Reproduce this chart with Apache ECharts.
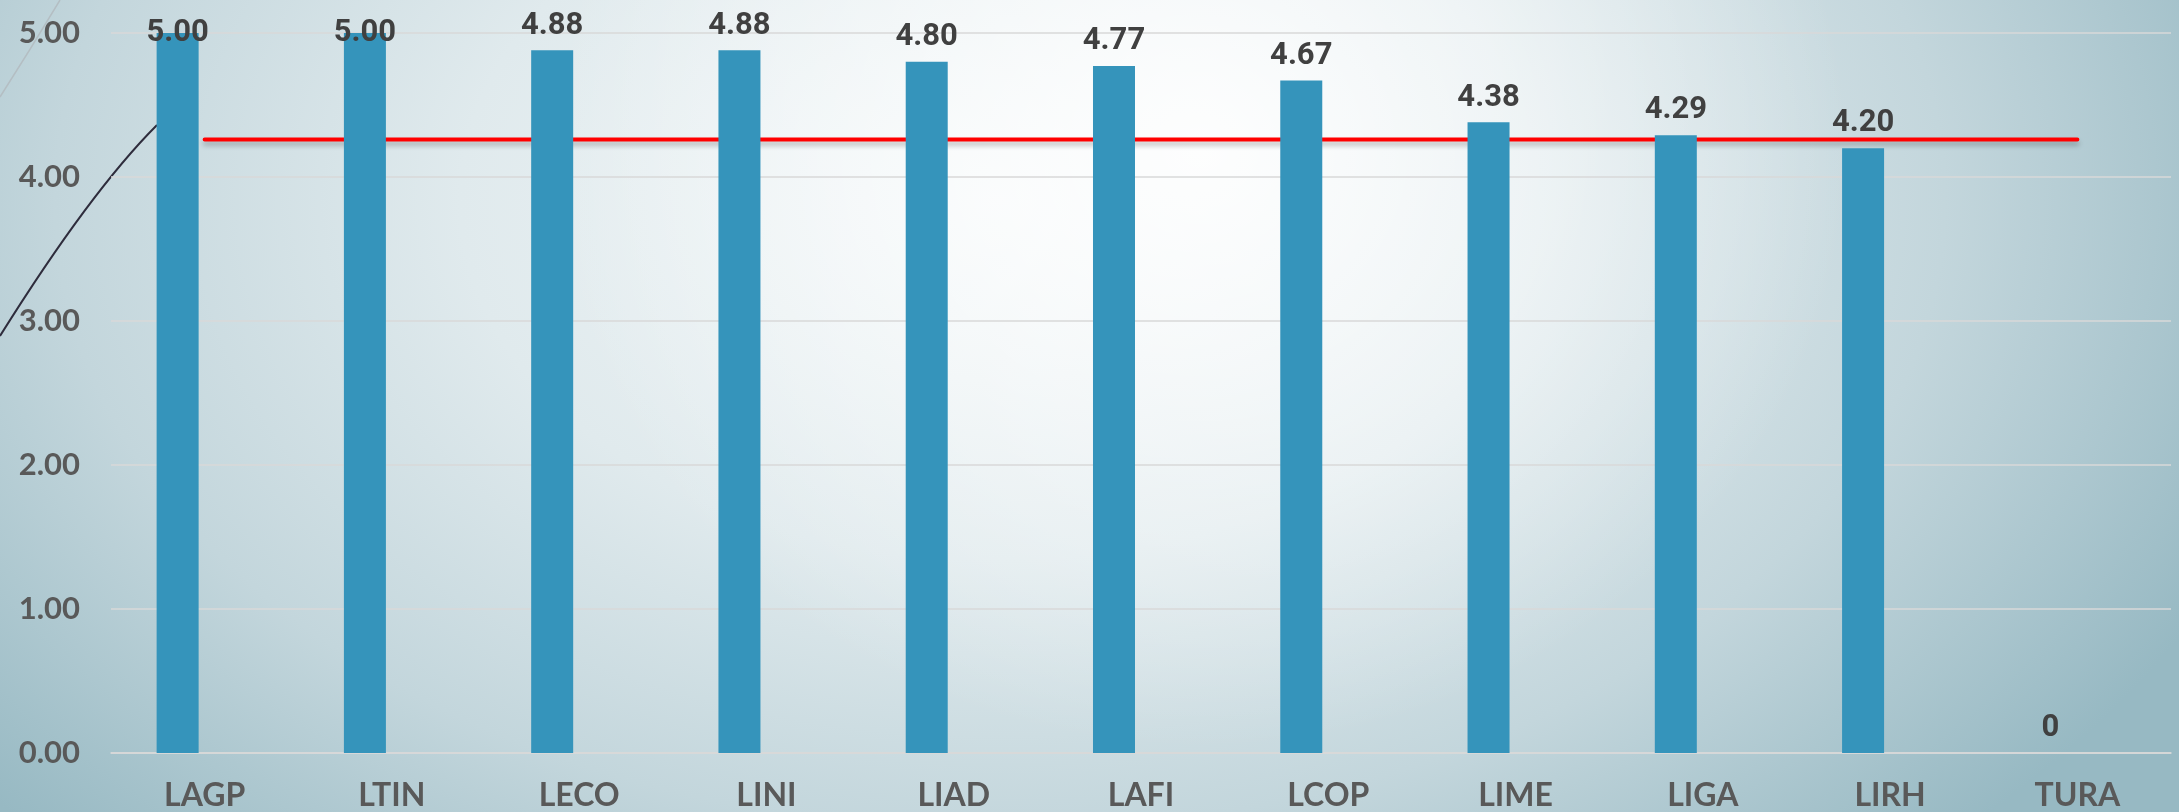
<!DOCTYPE html>
<html>
<head>
<meta charset="utf-8">
<script src="https://cdn.jsdelivr.net/npm/echarts@6/dist/echarts.min.js"></script>
<style>
  html, body {
    margin: 0;
    padding: 0;
  }
  body {
    width: 2179px;
    height: 812px;
    overflow: hidden;
    background:
      radial-gradient(ellipse 650px 600px at 1200px 150px, rgba(255,255,255,0.9) 0%, rgba(255,255,255,0.5) 45%, rgba(255,255,255,0) 100%),
      radial-gradient(ellipse 1350px 900px at 1000px 200px, #f4f8f9 0%, #e0eaed 40%, #c3d6dc 70%, #97b9c3 100%);
  }
  #chart {
    width: 2179px;
    height: 812px;
  }
</style>
</head>
<body>
<div id="chart"></div>
<script>
  var categories = ["LAGP", "LTIN", "LECO", "LINI", "LIAD", "LAFI", "LCOP", "LIME", "LIGA", "LIRH", "TURA"];
  var scores = [5.00, 5.00, 4.88, 4.88, 4.80, 4.77, 4.67, 4.38, 4.29, 4.20, 0];
  var averageLine = [4.26, 4.26, 4.26, 4.26, 4.26, 4.26, 4.26, 4.26, 4.26, 4.26, 4.26];
  var yTicks = [0, 1, 2, 3, 4, 5];

  var chart = echarts.init(document.getElementById("chart"));

  // labels of full bars get pushed down inside the plot, like the original
  var barData = scores.map(function (v) {
    if (v >= 4.95) {
      return { value: v, label: { offset: [0, 25] } };
    }
    return v;
  });

  var option = {
    backgroundColor: "transparent",
    animation: false,
    grid: {
      left: 111,
      right: 8,
      top: 33,
      bottom: 56,
    },
    graphic: [
      {
        type: "bezierCurve",
        z: -10,
        shape: { x1: 0, y1: 97, x2: 60, y2: 0, cpx1: 30, cpy1: 50 },
        style: { stroke: "#b4bec3", lineWidth: 1.5, fill: null },
      },
      {
        type: "bezierCurve",
        z: -10,
        shape: { x1: 0, y1: 336, x2: 157, y2: 125, cpx1: 90, cpy1: 192 },
        style: { stroke: "#2e2c3c", lineWidth: 2, fill: null },
      },
    ],
    xAxis: {
      type: "category",
      data: categories,
      axisLine: {
        lineStyle: { color: "#d9d9d9", width: 1.5 },
      },
      axisTick: { show: false },
      axisLabel: {
        color: "#595959",
        fontFamily: "Lato",
        fontWeight: "bold",
        fontSize: 32,
        margin: 27,
      },
    },
    yAxis: {
      type: "value",
      min: yTicks[0],
      max: yTicks[yTicks.length - 1],
      interval: 1,
      axisLine: { show: false },
      axisTick: { show: false },
      splitLine: {
        lineStyle: { color: "#d9d9d9", width: 1.5 },
      },
      axisLabel: {
        color: "#595959",
        fontFamily: "Lato",
        fontWeight: "bold",
        fontSize: 31,
        margin: 31,
        formatter: function (v) {
          return v.toFixed(2);
        },
      },
    },
    series: [
      {
        name: "Average",
        type: "line",
        z: 1,
        data: averageLine,
        symbol: "none",
        silent: true,
        lineStyle: {
          color: "#ff0000",
          width: 4,
          cap: "round",
          shadowColor: "rgba(0,0,0,0.25)",
          shadowBlur: 5,
          shadowOffsetY: 4,
        },
      },
      {
        name: "Score",
        type: "bar",
        z: 3,
        barWidth: 42,
        barGap: "28.6%",
        data: barData,
        itemStyle: { color: "#3594bb" },
        label: {
          show: true,
          position: "top",
          distance: 9,
          color: "#404040",
          fontFamily: "Roboto",
          fontWeight: "bold",
          fontSize: 31,
          formatter: function (p) {
            return p.value === 0 ? "0" : p.value.toFixed(2);
          },
        },
      },
      {
        name: "Empty",
        type: "bar",
        barWidth: 42,
        data: scores.map(function () { return "-"; }),
      },
    ],
  };

  chart.setOption(option);
</script>
</body>
</html>
